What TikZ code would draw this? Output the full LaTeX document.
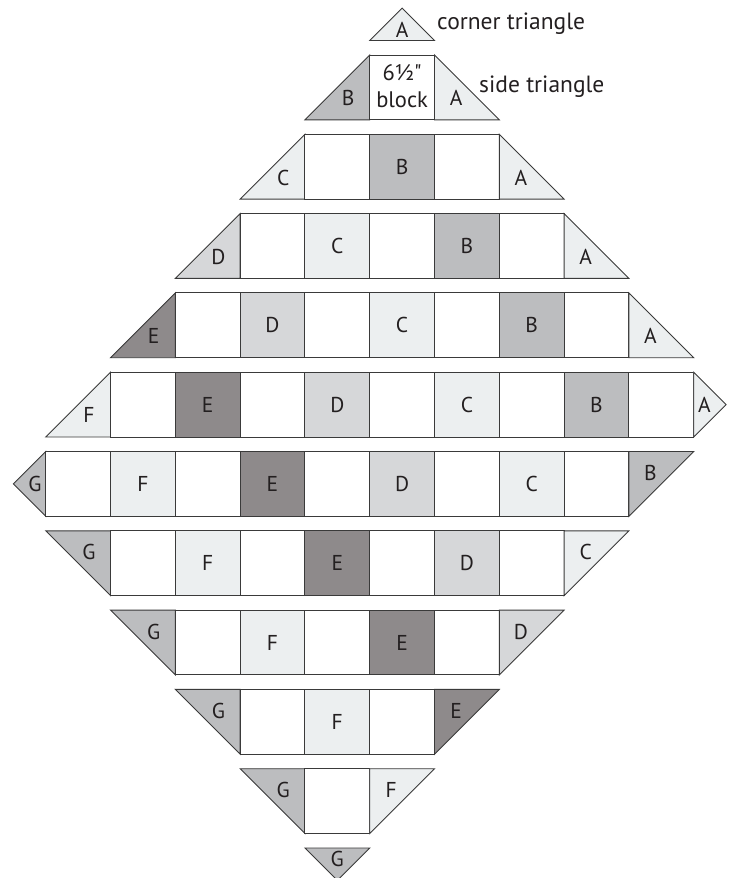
\documentclass[tikz,border=0pt]{standalone}
\usepackage{fontspec}
\setmainfont{PT Sans}
\newfontfamily\rawfont{PT Sans}[Ligatures=TeXOff]
\definecolor{qcN}{HTML}{FFFFFF}
\definecolor{qcA}{HTML}{ECEFF0}
\definecolor{qcC}{HTML}{ECEFF0}
\definecolor{qcF}{HTML}{ECEFF0}
\definecolor{qcD}{HTML}{D6D7D9}
\definecolor{qcB}{HTML}{BCBDBF}
\definecolor{qcG}{HTML}{BCBDBF}
\definecolor{qcE}{HTML}{8E8A8B}
\definecolor{edge}{HTML}{3A3A3A}
\definecolor{ink}{HTML}{231F20}
\tikzset{
  sqbox/.style={draw=edge, line width=0.9pt, minimum width=64.8pt, minimum height=64.8pt, inner sep=0pt, outer sep=0pt},
  tribox/.style={draw=edge, line width=0.9pt, line join=miter},
  lbl/.style={font=\fontsize{21.5}{25}\selectfont, text=ink, inner sep=0pt},
  note/.style={font=\fontsize{23.5}{28}\selectfont, text=ink, inner sep=0pt},
  blocktext/.style={font=\rawfont\fontsize{22.5}{27}\selectfont, text=ink, inner sep=0pt},
}
\def\X{369.7}
\def\S{64.8}
\def\P{79.3}
\def\Y{55}
\newcommand\lblof[1]{\if N#1\else#1\fi}
\newcommand\setrow[1]{%
  \pgfmathsetmacro\yt{\Y+(#1-2)*\P}%
  \pgfmathsetmacro\yb{\yt+\S}%
  \pgfmathsetmacro\ym{\yt+\S/2}}
\newcommand\qrow[3]{%
  \foreach \L [count=\i from 0] in {#3}{%
    \pgfmathsetmacro\xl{\X+(#2+\i)*\S}%
    \node[sqbox, fill=qc\L, anchor=north west, lbl] (r#1s\i) at (\xl,\yt) {\lblof\L};
  }}
\newcommand\tri[8]{%
  \filldraw[tribox, fill=qc#2] ({#3},{#4}) -- ({#5},{#6}) -- ({#7},{#8}) -- cycle;
  \node[lbl] (#1) at ({((#3)+(#5)+(#7))/3},{((#4)+(#6)+(#8))/3}) {#2};}
\newcommand\upL[3]{\tri{#1}{#2}{\X+(#3)*\S}{\yb}{\X+(#3+1)*\S}{\yt}{\X+(#3+1)*\S}{\yb}}
\newcommand\upR[3]{\tri{#1}{#2}{\X+(#3)*\S}{\yt}{\X+(#3)*\S}{\yb}{\X+(#3+1)*\S}{\yb}}
\newcommand\dnL[3]{\tri{#1}{#2}{\X+(#3)*\S}{\yt}{\X+(#3+1)*\S}{\yt}{\X+(#3+1)*\S}{\yb}}
\newcommand\dnR[3]{\tri{#1}{#2}{\X+(#3)*\S}{\yt}{\X+(#3+1)*\S}{\yt}{\X+(#3)*\S}{\yb}}
\begin{document}
\begin{tikzpicture}[x=1pt, y=-1pt]
\useasboundingbox (0,0) rectangle (732,878);
% row 1
\setrow{1}
\tri{t1}{A}{\X}{\yb}{\X+\S}{\yb}{\X+\S/2}{\yb-\S/2}
\node[note, anchor=base west] (ct) at (437,29) {corner triangle};
% row 2
\setrow{2}
\upL{r2L}{B}{-1}
\node[sqbox, fill=white, anchor=north west] (blk) at (\X,\yt) {};
\node[blocktext, anchor=base] (blk1) at (402.1,80) {6½"};
\node[blocktext, anchor=base] (blk2) at (402.1,107) {block};
\upR{r2R}{A}{1}
\node[note, anchor=base west] (st) at (479,92) {side triangle};
% row 3
\setrow{3}
\upL{r3L}{C}{-2}
\qrow{3}{-1}{N,B,N}
\upR{r3R}{A}{2}
% row 4
\setrow{4}
\upL{r4L}{D}{-3}
\qrow{4}{-2}{N,C,N,B,N}
\upR{r4R}{A}{3}
% row 5
\setrow{5}
\upL{r5L}{E}{-4}
\qrow{5}{-3}{N,D,N,C,N,B,N}
\upR{r5R}{A}{4}
% row 6
\setrow{6}
\upL{r6L}{F}{-5}
\qrow{6}{-4}{N,E,N,D,N,C,N,B,N}
\tri{r6R}{A}{\X+5*\S}{\yt}{\X+5*\S}{\yb}{\X+5.5*\S}{\ym}
% row 7
\setrow{7}
\tri{r7L}{G}{\X-5*\S}{\yt}{\X-5*\S}{\yb}{\X-5.5*\S}{\ym}
\qrow{7}{-5}{N,F,N,E,N,D,N,C,N}
\dnR{r7R}{B}{4}
% row 8
\setrow{8}
\dnL{r8L}{G}{-5}
\qrow{8}{-4}{N,F,N,E,N,D,N}
\dnR{r8R}{C}{3}
% row 9
\setrow{9}
\dnL{r9L}{G}{-4}
\qrow{9}{-3}{N,F,N,E,N}
\dnR{r9R}{D}{2}
% row 10
\setrow{10}
\dnL{r10L}{G}{-3}
\qrow{10}{-2}{N,F,N}
\dnR{r10R}{E}{1}
% row 11
\setrow{11}
\dnL{r11L}{G}{-2}
\qrow{11}{-1}{N}
\dnR{r11R}{F}{0}
% row 12
\setrow{12}
\tri{t12}{G}{\X-\S}{\yt}{\X}{\yt}{\X-0.5*\S}{\yt+\S/2}
\end{tikzpicture}
\end{document}
